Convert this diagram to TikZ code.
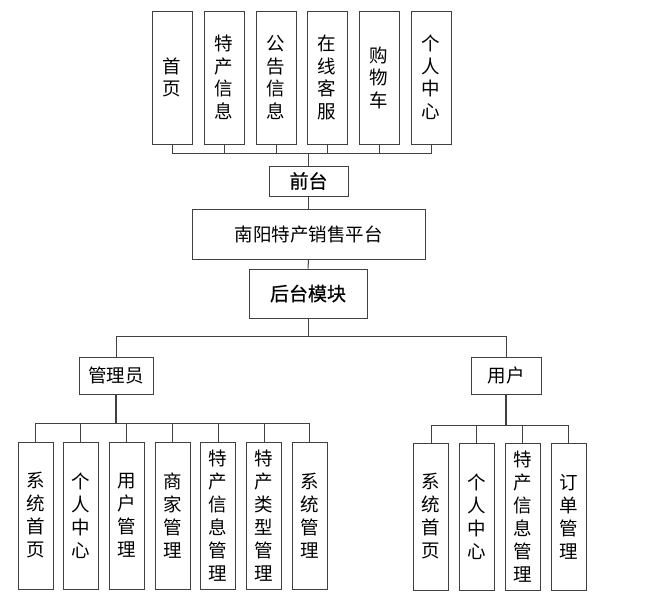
\documentclass[tikz,border=0pt]{standalone}
\usepackage{fontspec}
\setmainfont{Noto Sans CJK SC}
\newfontfamily\semibold[FakeBold=0.8]{Noto Sans CJK SC}
\definecolor{linegray}{RGB}{64, 64, 64}
\usetikzlibrary{positioning, calc}
\tikzset{
	tallbox/.style={rectangle, draw=linegray, line width=0.9pt, align=center, inner sep=0pt, minimum width=40pt, minimum height=133pt, font=\fontsize{18.5}{22.5}\selectfont},
	lowbox/.style={tallbox, minimum width=35pt, minimum height=147pt, font=\fontsize{18.5}{23}\selectfont},
	headbox/.style={rectangle, draw=linegray, line width=0.9pt, align=center, inner sep=0pt, font=\fontsize{18.5}{22}\selectfont},
	keybox/.style={headbox, font=\fontsize{19}{22}\selectfont\semibold},
	link/.style={draw=linegray, line width=1pt},
}

\begin{document}
\begin{tikzpicture}[x=1pt, y=-1pt]
		\useasboundingbox (0,0) rectangle (671,600);
		% front end
		\node[tallbox] (home) at (172,77.5) {首\\页};
		\node[tallbox] (prodinfo) at (224,77.5) {特\\产\\信\\息};
		\node[tallbox] (notice) at (276,77.5) {公\\告\\信\\息};
		\node[tallbox] (service) at (327,77.5) {在\\线\\客\\服};
		\node[tallbox] (cart) at (379,77.5) {购\\物\\车};
		\node[tallbox] (mine) at (431,77.5) {个\\人\\中\\心};
		\node[keybox, minimum width=79pt, minimum height=30pt] (front) at (308.5,181) {前台};
		\node[headbox, minimum width=233pt, minimum height=50pt] (platform) at (308.5,234) {南阳特产销售平台};
		\node[keybox, minimum width=118pt, minimum height=49pt] (back) at (308,293.5) {后台模块};
		% back end
		\node[headbox, minimum width=74pt, minimum height=37pt] (admin) at (116,375.5) {管理员};
		\node[headbox, minimum width=70pt, minimum height=37pt] (user) at (506,375.5) {用户};
		\node[lowbox] (a1) at (35.5,515.5) {系\\统\\首\\页};
		\node[lowbox] (a2) at (80.5,515.5) {个\\人\\中\\心};
		\node[lowbox] (a3) at (126.5,515.5) {用\\户\\管\\理};
		\node[lowbox] (a4) at (172.5,515.5) {商\\家\\管\\理};
		\node[lowbox] (a5) at (218,515.5) {特\\产\\信\\息\\管\\理};
		\node[lowbox] (a6) at (264,515.5) {特\\产\\类\\型\\管\\理};
		\node[lowbox] (a7) at (309.5,515.5) {系\\统\\管\\理};
		\node[lowbox] (u1) at (431,516.5) {系\\统\\首\\页};
		\node[lowbox] (u2) at (476.5,516.5) {个\\人\\中\\心};
		\node[lowbox] (u3) at (522.5,516.5) {特\\产\\信\\息\\管\\理};
		\node[lowbox] (u4) at (568.5,516.5) {订\\单\\管\\理};
		% bus points
		\coordinate (frontbus) at (308.5,153);
		\coordinate (backbus) at (308,336);
		\coordinate (adminbus) at (116,423);
		\coordinate (userbus) at (506,425);
		\foreach \n in {home, prodinfo, notice, service, cart, mine}
			\draw[link] (\n.south) |- (frontbus);
		\draw[link] (frontbus) -- (front.north);
		\draw[link] (front.south) -- (platform.north);
		\draw[link] (platform.south) -- (back.north);
		\draw[link] (back.south) -- (backbus);
		\draw[link] (admin.north) |- (backbus);
		\draw[link] (user.north) |- (backbus);
		\draw[link, line width=1.8pt] (admin.south) -- (adminbus);
		\foreach \n in {a1, a2, a3, a4, a5, a6, a7}
			\draw[link] (\n.north) |- (adminbus);
		\draw[link, line width=1.8pt] (user.south) -- (userbus);
		\foreach \n in {u1, u2, u3, u4}
			\draw[link] (\n.north) |- (userbus);
	\end{tikzpicture}
\end{document}
